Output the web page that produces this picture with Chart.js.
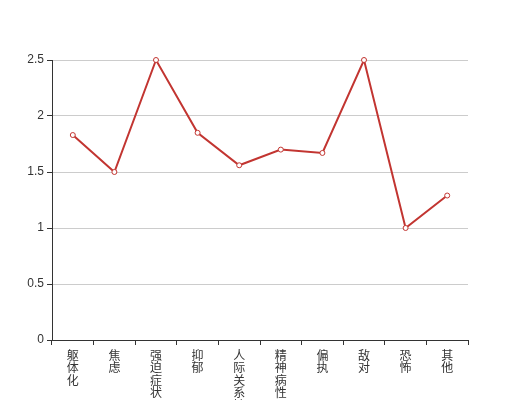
<!DOCTYPE html>
<html><head><meta charset="utf-8">
<script src="https://cdn.jsdelivr.net/npm/chart.js@4"></script>
<style>html,body{margin:0;padding:0;background:#fff;overflow:hidden}#wrap{width:520px;height:400px;position:relative}</style>
</head><body><div id="wrap"><canvas id="c" width="520" height="400"></canvas></div>
<script>
const categories = ['躯体化','焦虑','强迫症状','抑郁','人际关系敏感','精神病性','偏执','敌对','恐怖','其他'];
const values = [1.83, 1.5, 2.5, 1.85, 1.56, 1.7, 1.67, 2.5, 1.0, 1.29];
const yTicks = [0, 0.5, 1, 1.5, 2, 2.5];

const FONT = '"Liberation Sans", "Noto Sans CJK SC", sans-serif';
new Chart(document.getElementById('c'), {
  type: 'line',
  data: {
    labels: categories.map(s => s.split('')),
    datasets: [{
      data: values,
      clip: false,
      borderColor: '#c23531',
      backgroundColor: '#ffffff',
      borderWidth: 2,
      pointRadius: 2.5,
      pointBorderWidth: 1,
      pointBackgroundColor: '#ffffff',
      pointBorderColor: '#c23531',
      tension: 0,
      fill: false
    }]
  },
  options: {
    responsive: false,
    animation: false,
    layout: { padding: { top: 60, right: 52, left: 0, bottom: 0 } },
    plugins: { legend: { display: false }, tooltip: { enabled: false } },
    scales: {
      x: {
        offset: true,
        grid: { display: true, offset: true, drawOnChartArea: false, drawTicks: true, tickLength: 5, tickColor: '#333' },
        border: { color: '#333', width: 1 },
        ticks: { color: '#333', padding: 5, maxRotation: 0, autoSkip: false, font: { family: FONT, size: 12, lineHeight: 1.05 } },
        afterFit: s => { s.height = 60; }
      },
      y: {
        min: 0, max: 2.5,
        afterBuildTicks: s => { s.ticks = yTicks.map(v => ({ value: v })); },
        grid: { color: '#ccc', tickColor: '#333', tickLength: 5 },
        border: { color: '#333', width: 1 },
        ticks: { color: '#333', padding: 3, font: { family: FONT, size: 12 }, callback: v => String(v) },
        afterFit: s => { s.width = 52; }
      }
    }
  }
});
</script></body></html>
